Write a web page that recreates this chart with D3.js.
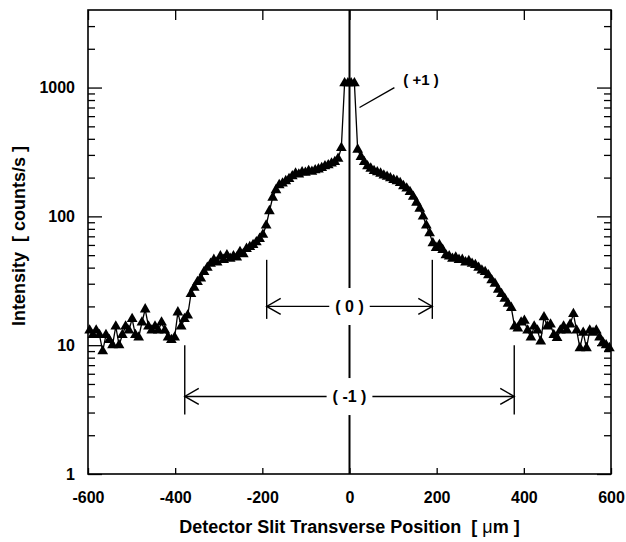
<!DOCTYPE html>
<html>
<head>
<meta charset="utf-8">
<script src="https://cdn.jsdelivr.net/npm/d3@7"></script>
<style>
  body { margin: 0; background: #fff; }
  svg text { font-family: "Liberation Sans", Arial, sans-serif; font-weight: bold; white-space: pre; }
</style>
</head>
<body>
<svg id="chart"></svg>
<script>
// detector scan: uniform slit positions, intensities
var scanStart = -596.25, scanStep = 7.5;
var intensity = [
  13, 12, 13, 12, 9, 12, 11, 10, 14, 10,
  12, 14, 13, 16, 12, 11.5, 15, 19, 14, 13,
  14, 13, 15, 13, 11.5, 11, 11.5, 18, 14, 16,
  17, 25, 28, 31, 33, 37, 40, 43, 46, 44,
  49, 46, 50, 47, 49, 48, 53, 51, 56, 58,
  60, 63, 67, 72, 85, 110, 140, 160, 175, 180,
  188, 195, 205, 215, 212, 220, 218, 225, 222, 228,
  232, 238, 245, 250, 258, 265, 280, 340, 1080, 1080,
  1080, 1080, 330, 290, 265, 245, 235, 225, 220, 215,
  208, 203, 198, 192, 188, 182, 172, 165, 155, 142,
  128, 115, 100, 85, 74, 62, 57, 60, 55, 50,
  49, 47, 48, 46, 46, 44, 45, 43, 42, 40,
  38, 37, 35, 32, 30, 27, 25, 23, 21, 19.5,
  14, 13.5, 15, 15.5, 13, 11.5, 14, 13, 10.7, 16.5,
  14, 14.5, 12, 11.4, 13, 14, 13, 14.5, 17.5, 13,
  9.5, 12.5, 9.5, 13, 12.5, 13, 11.5, 10.5, 10, 9.5
];

var xTicks = [-600, -400, -200, 0, 200, 400, 600];
var yMajor = [1, 10, 100, 1000];
var yMinor = [2, 3, 4, 5, 6, 7, 8, 9, 20, 30, 40, 50, 60, 70, 80, 90,
              200, 300, 400, 500, 600, 700, 800, 900, 2000, 3000];

// diffraction order spans: label, half width (um), level, bar top, bar bottom
var spanLabels = ['( 0 )', '( -1 )'];
var spanHalf = [190, 378];
var spanLevel = [20, 4];
var spanTop = [46, 10];
var spanBottom = [16, 2.9];

(function(){
  var W = 626, H = 542;
  var pl = 88, pr = 611, pt = 10, pb = 474;

  var svg = d3.select('#chart').attr('width', W).attr('height', H);

  var x = d3.scaleLinear().domain([-600, 600]).range([pl, pr]);
  var y = d3.scaleLog().domain([1, 4000]).range([pb, pt]);

  var points = intensity.map(function(v, i){
    return {x: scanStart + i * scanStep, y: v};
  });

  function plain(d){ return String(d); }
  // axes, ticks pointing inwards
  function clean(g){ g.select('.domain').remove(); g.selectAll('line').attr('stroke-width', 1.3); }

  svg.append('g').attr('transform', 'translate(' + pl + ',0)')
    .call(d3.axisLeft(y).tickValues(yMajor).tickSize(-14).tickPadding(13).tickFormat(plain))
    .call(clean)
    .selectAll('text').attr('font-size', 16).attr('fill', '#000');
  svg.append('g').attr('transform', 'translate(' + pl + ',0)')
    .call(d3.axisLeft(y).tickValues(yMinor).tickSize(-7).tickFormat(''))
    .call(clean);
  svg.append('g').attr('transform', 'translate(' + pr + ',0)')
    .call(d3.axisRight(y).tickValues(yMajor).tickSize(-14).tickFormat(''))
    .call(clean);
  svg.append('g').attr('transform', 'translate(' + pr + ',0)')
    .call(d3.axisRight(y).tickValues(yMinor).tickSize(-7).tickFormat(''))
    .call(clean);

  svg.append('g').attr('transform', 'translate(0,' + pb + ')')
    .call(d3.axisBottom(x).tickValues(xTicks).tickSize(-6).tickPadding(18).tickFormat(plain))
    .call(clean)
    .selectAll('text').attr('font-size', 16).attr('fill', '#000');
  svg.append('g').attr('transform', 'translate(0,' + pt + ')')
    .call(d3.axisTop(x).tickValues(xTicks).tickSize(-10).tickFormat(''))
    .call(clean);

  svg.append('rect')
    .attr('x', pl).attr('y', pt)
    .attr('width', pr - pl).attr('height', pb - pt)
    .attr('fill', 'none').attr('stroke', '#000').attr('stroke-width', 1.6);

  // centre line
  svg.append('line')
    .attr('x1', x(0)).attr('x2', x(0))
    .attr('y1', pt).attr('y2', pb)
    .attr('stroke', '#000').attr('stroke-width', 2);

  // spans with arrows
  var ann = svg.append('g').attr('stroke', '#000').attr('fill', 'none').attr('stroke-width', 1.4);
  spanLabels.forEach(function(label, i){
    var x0 = x(-spanHalf[i]), x1 = x(spanHalf[i]), yy = y(spanLevel[i]);
    ann.append('line').attr('x1', x0).attr('x2', x1).attr('y1', yy).attr('y2', yy);
    [x0, x1].forEach(function(xx){
      ann.append('line').attr('x1', xx).attr('x2', xx)
        .attr('y1', y(spanTop[i])).attr('y2', y(spanBottom[i]));
    });
    ann.append('path').attr('d', 'M' + (x0 + 14) + ',' + (yy - 8) + 'L' + x0 + ',' + yy + 'L' + (x0 + 14) + ',' + (yy + 8));
    ann.append('path').attr('d', 'M' + (x1 - 14) + ',' + (yy - 8) + 'L' + x1 + ',' + yy + 'L' + (x1 - 14) + ',' + (yy + 8));

    var t = svg.append('text')
      .attr('x', x(0)).attr('y', yy).attr('dy', '0.35em')
      .attr('text-anchor', 'middle').attr('font-size', 16)
      .text(label);
    var b = t.node().getBBox();
    svg.insert('rect', function(){ return t.node(); })
      .attr('x', b.x - 6).attr('y', b.y - 10)
      .attr('width', b.width + 12).attr('height', b.height + 20)
      .attr('fill', '#fff');
  });

  // data
  svg.append('path')
    .datum(points)
    .attr('d', d3.line().x(function(d){ return x(d.x); }).y(function(d){ return y(d.y); }))
    .attr('fill', 'none').attr('stroke', '#000').attr('stroke-width', 1.3);

  svg.append('g').selectAll('path')
    .data(points)
    .enter()
      .append('path')
        .attr('d', d3.symbol().type(d3.symbolTriangle).size(50))
        .attr('transform', function(d){ return 'translate(' + x(d.x) + ',' + y(d.y) + ')'; })
        .attr('fill', '#000');

  // (+1) label and leader
  svg.append('line')
    .attr('x1', x(23)).attr('y1', y(700))
    .attr('x2', x(103)).attr('y2', y(1000))
    .attr('stroke', '#000').attr('stroke-width', 1.4);
  svg.append('text')
    .attr('x', x(164)).attr('y', y(1150)).attr('dy', '0.35em')
    .attr('text-anchor', 'middle').attr('font-size', 15)
    .text('( +1 )');

  // axis titles
  var xt = svg.append('text')
    .attr('x', (pl + pr) / 2).attr('y', 533)
    .attr('text-anchor', 'middle').attr('font-size', 18);
  xt.append('tspan').text('Detector Slit Transverse Position  [ ');
  xt.append('tspan').attr('font-weight', 'normal').text('μ');
  xt.append('tspan').text('m ]');

  svg.append('text')
    .attr('transform', 'translate(25,236) rotate(-90)')
    .attr('text-anchor', 'middle').attr('font-size', 18)
    .text('Intensity  [ counts/s ]');
})();
</script>
</body>
</html>
